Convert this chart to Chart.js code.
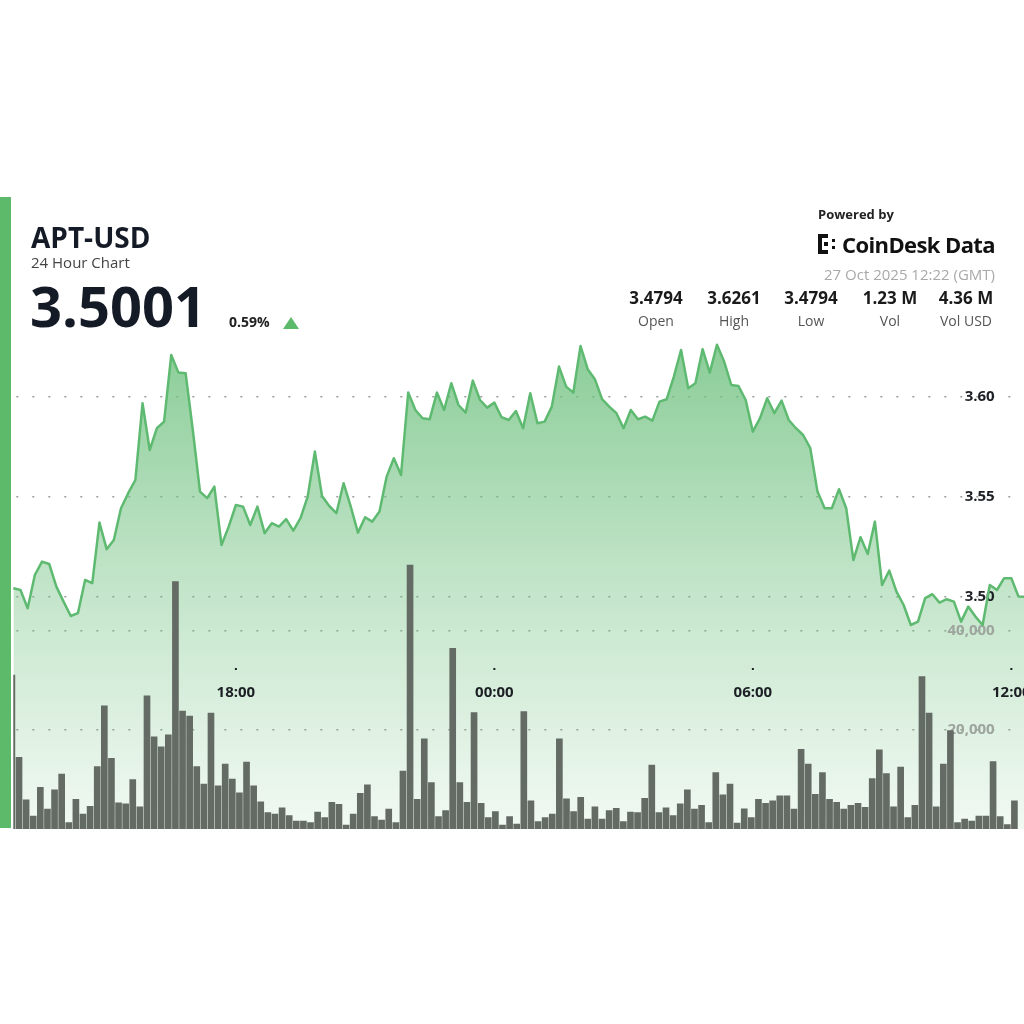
<!DOCTYPE html>
<html>
<head>
<meta charset="utf-8">
<title>APT-USD 24 Hour Chart</title>
<script src="https://cdn.jsdelivr.net/npm/chart.js@4.4.1/dist/chart.umd.min.js"></script>
<style>
  html, body { margin: 0; padding: 0; background: #fff; overflow: hidden; }
  #page { position: relative; width: 1024px; height: 1024px; overflow: hidden; font-family: 'Open Sans', sans-serif; color: #151b26; }
  .abs { position: absolute; line-height: 1; white-space: nowrap; }
  #stripe { left: 0; top: 197px; width: 11px; height: 631px; background: #5dba6b; z-index: 2; }
  #chartBox { position: absolute; left: 0; top: 197px; width: 1030px; height: 632px; }
  #symbol { left: 31px; top: 223px; font-size: 28px; font-weight: 700; }
  #subtitle { left: 31px; top: 255px; font-size: 15px; color: #444; }
  #price { left: 30px; top: 277px; font-size: 56px; font-weight: 700; }
  #change { left: 229px; top: 315px; font-size: 14px; font-weight: 700; color: #222; }
  #arrow { left: 283px; top: 317px; width: 0; height: 0; border-left: 8px solid transparent; border-right: 8px solid transparent; border-bottom: 12px solid #5dba6b; }
  #powered { left: 818px; top: 208px; font-size: 13px; font-weight: 700; color: #222; }
  #brand { right: 29px; top: 233px; font-size: 22px; font-weight: 700; color: #111; letter-spacing: -0.6px; }
  #stamp { right: 29px; top: 267px; font-size: 15px; color: #a9a9a9; }
  .stat { width: 90px; text-align: center; }
  .val { top: 289px; font-size: 17px; font-weight: 700; color: #1a1a1a; }
  .lbl { top: 314px; font-size: 14px; color: #555; }
</style>
</head>
<body>
<div id="page">
  <div id="chartBox"><canvas id="chart"></canvas></div>
  <div id="stripe" class="abs"></div>

  <div id="symbol" class="abs">APT-USD</div>
  <div id="subtitle" class="abs">24 Hour Chart</div>
  <div id="price" class="abs">3.5001</div>
  <div id="change" class="abs">0.59%</div>
  <div id="arrow" class="abs"></div>

  <div id="powered" class="abs">Powered by</div>
  <svg class="abs" style="left:818px;top:234px" width="20" height="20" viewBox="0 0 20 20">
    <g fill="#111">
      <rect x="0" y="0" width="4" height="20"/>
      <rect x="0" y="0" width="10" height="4"/>
      <rect x="0" y="16" width="10" height="4"/>
      <rect x="6" y="8" width="4" height="4"/>
      <rect x="14" y="5" width="3" height="3"/>
      <rect x="14" y="12" width="3" height="3"/>
    </g>
  </svg>
  <div id="brand" class="abs">CoinDesk Data</div>
  <div id="stamp" class="abs">27 Oct 2025 12:22 (GMT)</div>

  <div class="abs stat val" style="left:611px">3.4794</div>
  <div class="abs stat val" style="left:689px">3.6261</div>
  <div class="abs stat val" style="left:766px">3.4794</div>
  <div class="abs stat val" style="left:845px">1.23 M</div>
  <div class="abs stat val" style="left:921px">4.36 M</div>
  <div class="abs stat lbl" style="left:611px">Open</div>
  <div class="abs stat lbl" style="left:689px">High</div>
  <div class="abs stat lbl" style="left:766px">Low</div>
  <div class="abs stat lbl" style="left:845px">Vol</div>
  <div class="abs stat lbl" style="left:921px">Vol USD</div>
</div>

<script>
// 10 minute steps, 26 Oct 12:50 -> 27 Oct 12:20 (GMT)
const times = []
for (let m = 12 * 60 + 50; times.length < 142; m += 10) {
	const t = m % 1440
	times.push(String(Math.floor(t / 60)).padStart(2, '0') + ':' + String(t % 60).padStart(2, '0'))
}

const prices = [
	3.5044, 3.5035, 3.4944, 3.5110, 3.5177, 3.5165, 3.5052, 3.4977, 3.4905, 3.4919,
	3.5085, 3.5069, 3.5372, 3.5239, 3.5285, 3.5444, 3.5519, 3.5585, 3.5969, 3.5735,
	3.5844, 3.5877, 3.6210, 3.6122, 3.6119, 3.5835, 3.5527, 3.5494, 3.5552, 3.5260,
	3.5352, 3.5460, 3.5452, 3.5360, 3.5452, 3.5319, 3.5369, 3.5352, 3.5389, 3.5332,
	3.5394, 3.5502, 3.5727, 3.5505, 3.5455, 3.5419, 3.5569, 3.5452, 3.5322, 3.5399,
	3.5377, 3.5427, 3.5602, 3.5694, 3.5610, 3.6022, 3.5935, 3.5894, 3.5889, 3.6022,
	3.5935, 3.6069, 3.5960, 3.5922, 3.6082, 3.5985, 3.5947, 3.5972, 3.5899, 3.5885,
	3.5930, 3.5844, 3.6019, 3.5869, 3.5877, 3.5952, 3.6152, 3.6052, 3.6022, 3.6255,
	3.6139, 3.6089, 3.5989, 3.5952, 3.5919, 3.5844, 3.5935, 3.5889, 3.5902, 3.5882,
	3.5977, 3.5989, 3.6102, 3.6235, 3.6044, 3.6069, 3.6239, 3.6122, 3.6261, 3.6177,
	3.6060, 3.6055, 3.5985, 3.5827, 3.5894, 3.5994, 3.5919, 3.5982, 3.5885, 3.5844,
	3.5810, 3.5744, 3.5527, 3.5444, 3.5444, 3.5539, 3.5444, 3.5185, 3.5299, 3.5215,
	3.5377, 3.5060, 3.5132, 3.5027, 3.4960, 3.4860, 3.4877, 3.4994, 3.5014, 3.4972,
	3.4989, 3.4977, 3.4877, 3.4952, 3.4902, 3.4860, 3.5060, 3.5035, 3.5094, 3.5094,
	3.5002, 3.5001,
]

const volumes = [
	31100, 14500, 5900, 2600, 8400, 4000, 7900, 11100, 1300, 6000,
	3000, 4600, 12600, 24900, 14300, 5300, 5100, 10000, 4500, 26900,
	18600, 16600, 19000, 50000, 23800, 22800, 12600, 9100, 23400, 8700,
	13100, 10100, 7300, 13500, 8700, 5500, 3300, 3000, 4300, 2700,
	1600, 1600, 1300, 3400, 2300, 5400, 5000, 800, 3000, 7200,
	8900, 2500, 1800, 4000, 1300, 11700, 53300, 6000, 18200, 9400,
	2500, 3700, 36500, 9400, 5400, 23500, 5200, 2300, 3500, 800,
	2500, 1000, 23700, 5700, 1500, 2300, 3000, 18200, 6100, 3500,
	6400, 2000, 4500, 2000, 3700, 4200, 1500, 3400, 3300, 6200,
	12900, 3300, 4300, 2700, 5100, 7900, 4000, 4800, 1300, 11400,
	6900, 9100, 1200, 4100, 2300, 6000, 5200, 5700, 6700, 6700,
	4000, 16100, 13100, 7000, 11400, 6000, 5400, 4000, 4800, 5200,
	4400, 10200, 16000, 11200, 4500, 12500, 2300, 4800, 30800, 23400,
	4500, 13100, 19900, 1300, 2000, 1600, 2600, 2600, 13600, 2500,
	900, 5700,
]

const priceTicks = [3.50, 3.55, 3.60]
const volumeTicks = [20000, 40000]
const timeTicks = ['18:00', '00:00', '06:00', '12:00']

// labels drawn inside the plot, under the bars and the line
const overlayLabels = {
	id: 'overlayLabels',
	beforeDatasetsDraw(chart) {
		const { ctx, chartArea, scales } = chart
		const labelX = chartArea.right - 31
		ctx.save()
		ctx.font = 'bold 15px "Open Sans"'
		ctx.textAlign = 'right'
		ctx.textBaseline = 'middle'
		ctx.fillStyle = '#1c1f24'
		priceTicks.forEach(v => ctx.fillText(v.toFixed(2), labelX, scales.y.getPixelForValue(v)))
		ctx.fillStyle = '#9ea49e'
		volumeTicks.forEach(v => ctx.fillText(v.toLocaleString('en-US'), labelX, scales.yv.getPixelForValue(v)))

		ctx.textAlign = 'center'
		ctx.fillStyle = '#1c1f24'
		const labelY = chartArea.top + 353
		timeTicks.forEach(t => {
			const x = scales.x.getPixelForValue(times.indexOf(t))
			ctx.fillRect(x - 1, labelY - 25, 2, 2)
			ctx.fillText(t, x, labelY)
		})
		ctx.restore()
	},
}

const dottedGrid = {
	drawTicks: false,
	color: 'rgba(120, 124, 120, 0.75)',
	lineWidth: 1.6,
}
const dottedBorder = { display: false, dash: [2, 14], dashOffset: 13 }

function areaFill(context) {
	const { chart } = context
	const area = chart.chartArea
	if (!area) return 'rgba(110, 190, 125, 0.4)'
	const g = chart.ctx.createLinearGradient(0, area.top, 0, area.bottom)
	g.addColorStop(0, 'rgba(105, 190, 122, 0.78)')
	g.addColorStop(0.5, 'rgba(110, 192, 126, 0.42)')
	g.addColorStop(1, 'rgba(120, 196, 134, 0.1)')
	return g
}

new Chart(document.getElementById('chart'), {
	type: 'line',
	data: {
		labels: times,
		datasets: [
			{
				type: 'line',
				data: prices,
				xAxisID: 'x',
				yAxisID: 'y',
				borderColor: '#5fba71',
				borderWidth: 2.5,
				borderJoinStyle: 'round',
				pointRadius: 0,
				tension: 0,
				fill: 'start',
				backgroundColor: areaFill,
				order: 1,
			},
			{
				type: 'bar',
				data: volumes.map((v, i) => ({ x: i, y: v })),
				xAxisID: 'xb',
				yAxisID: 'yv',
				backgroundColor: '#646a64',
				borderWidth: 0,
				barThickness: 6,
				order: 2,
			},
		],
	},
	options: {
		responsive: true,
		maintainAspectRatio: false,
		animation: false,
		devicePixelRatio: 1,
		layout: {
			padding: { left: 13.3, right: 4.3, top: 143, bottom: 0 },
		},
		scales: {
			x: {
				type: 'category',
				offset: false,
				display: false,
			},
			// volume bars sit on their own index axis, a touch tighter than the line
			xb: {
				type: 'linear',
				min: 0.619,
				max: 143.01,
				offset: false,
				bounds: 'data',
				display: false,
			},
			y: {
				position: 'right',
				min: 3.384,
				max: 3.6285,
				afterBuildTicks: s => { s.ticks = priceTicks.map(v => ({ value: v })) },
				ticks: { display: false },
				grid: dottedGrid,
				border: dottedBorder,
			},
			yv: {
				position: 'right',
				min: 0,
				max: 98788,
				afterBuildTicks: s => { s.ticks = volumeTicks.map(v => ({ value: v })) },
				ticks: { display: false },
				grid: dottedGrid,
				border: dottedBorder,
			},
		},
		plugins: {
			legend: { display: false },
			tooltip: { enabled: false },
			filler: { drawTime: 'beforeDatasetsDraw' },
		},
	},
	plugins: [overlayLabels],
})
</script>
</body>
</html>
